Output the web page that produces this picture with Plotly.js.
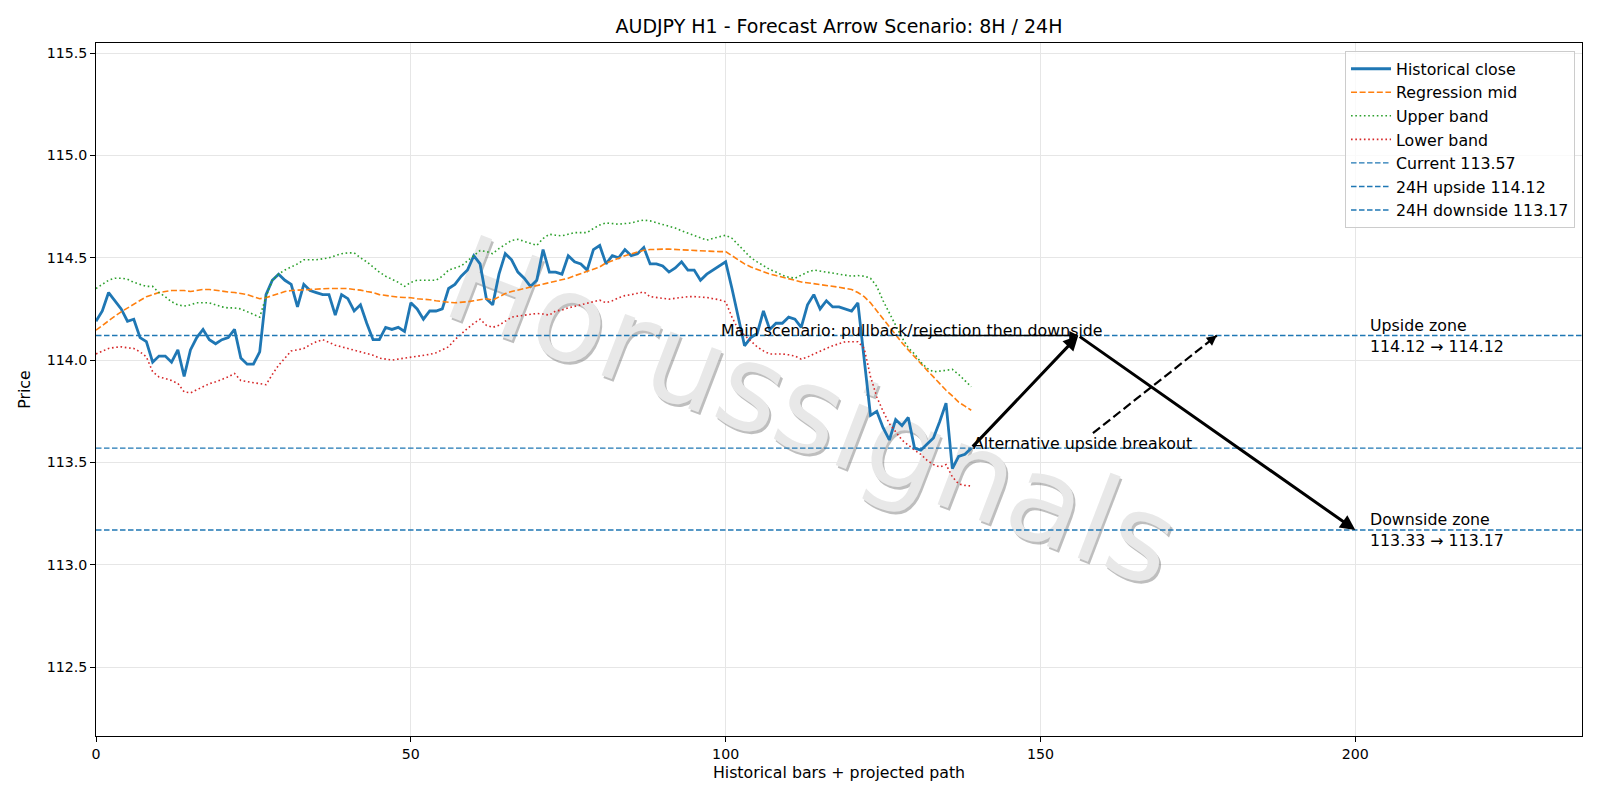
<!DOCTYPE html>
<html>
<head>
<meta charset="utf-8">
<script src="https://cdn.plot.ly/plotly-3.0.1.min.js"></script>
<style>html,body{margin:0;padding:0;background:#fff;}#chart{width:1600px;height:800px;}</style>
</head>
<body>
<div id="chart"></div>
<script>
// ---- data ----
const closeVals = [
114.19,114.24,114.33,114.29,114.25,114.19,114.20,114.11,114.09,113.99,
114.02,114.02,113.99,114.05,113.92,114.05,114.11,114.15,114.10,114.08,
114.10,114.11,114.15,114.01,113.98,113.98,114.04,114.32,114.39,114.42,
114.39,114.37,114.26,114.37,114.34,114.33,114.32,114.32,114.22,114.32,
114.30,114.24,114.27,114.18,114.10,114.10,114.16,114.15,114.16,114.14,
114.28,114.25,114.20,114.24,114.24,114.25,114.35,114.37,114.41,114.44,
114.51,114.47,114.30,114.27,114.42,114.52,114.49,114.43,114.40,114.36,
114.39,114.54,114.43,114.43,114.42,114.51,114.48,114.47,114.44,114.54,
114.56,114.47,114.51,114.50,114.54,114.51,114.52,114.55,114.47,114.47,
114.46,114.43,114.45,114.48,114.44,114.44,114.39,114.42,114.44,114.46,
114.48,114.35,114.21,114.07,114.11,114.13,114.24,114.15,114.18,114.18,
114.21,114.20,114.16,114.27,114.32,114.25,114.29,114.26,114.26,114.25,
114.24,114.28,114.00,113.73,113.75,113.67,113.61,113.71,113.68,113.72,
113.57,113.56,113.59,113.62,113.70,113.79,113.47,113.53,113.54,113.57];

const midVals = [
114.146,114.17,114.195,114.215,114.236,114.255,114.273,114.29,114.31,114.32,
114.33,114.335,114.34,114.34,114.34,114.335,114.34,114.345,114.345,114.34,
114.335,114.333,114.33,114.325,114.32,114.31,114.30,114.305,114.315,114.325,
114.335,114.34,114.342,114.345,114.345,114.348,114.35,114.35,114.35,114.35,
114.35,114.345,114.342,114.335,114.33,114.32,114.315,114.31,114.308,114.306,
114.305,114.30,114.298,114.295,114.29,114.285,114.283,114.28,114.282,114.285,
114.29,114.295,114.30,114.293,114.31,114.325,114.335,114.342,114.35,114.358,
114.366,114.372,114.378,114.385,114.392,114.40,114.412,114.422,114.432,114.443,
114.455,114.475,114.485,114.497,114.51,114.52,114.53,114.537,114.54,114.542,
114.542,114.542,114.54,114.538,114.537,114.535,114.533,114.532,114.531,114.53,
114.53,114.51,114.49,114.47,114.455,114.443,114.43,114.42,114.413,114.406,
114.40,114.39,114.382,114.378,114.374,114.37,114.366,114.362,114.356,114.35,
114.345,114.33,114.31,114.28,114.24,114.20,114.16,114.12,114.085,114.05,
114.015,113.98,113.95,113.918,113.885,113.853,113.825,113.795,113.775,113.755];

const upperVals = [
114.35,114.37,114.39,114.40,114.40,114.395,114.38,114.37,114.36,114.36,
114.33,114.31,114.285,114.27,114.264,114.27,114.28,114.28,114.28,114.27,
114.26,114.255,114.255,114.25,114.236,114.22,114.21,114.31,114.39,114.42,
114.44,114.455,114.47,114.49,114.49,114.49,114.495,114.50,114.51,114.52,
114.524,114.524,114.50,114.48,114.455,114.43,114.41,114.395,114.38,114.36,
114.38,114.39,114.39,114.39,114.39,114.41,114.44,114.45,114.46,114.485,
114.51,114.535,114.53,114.52,114.545,114.565,114.585,114.59,114.58,114.57,
114.56,114.594,114.615,114.61,114.607,114.615,114.623,114.623,114.623,114.643,
114.66,114.67,114.667,114.664,114.667,114.67,114.678,114.684,114.68,114.672,
114.664,114.655,114.645,114.632,114.62,114.608,114.597,114.586,114.595,114.603,
114.61,114.595,114.565,114.53,114.50,114.48,114.46,114.443,114.43,114.415,
114.405,114.40,114.415,114.43,114.44,114.435,114.43,114.425,114.42,114.415,
114.41,114.413,114.41,114.40,114.36,114.29,114.23,114.17,114.11,114.06,
114.03,113.99,113.96,113.943,113.945,113.95,113.955,113.93,113.90,113.87];

const lowerVals = [
114.03,114.045,114.057,114.062,114.065,114.06,114.057,114.04,114.016,113.943,
113.918,113.91,113.90,113.886,113.845,113.84,113.855,113.873,113.885,113.894,
113.905,113.918,113.935,113.90,113.895,113.889,113.885,113.88,113.93,113.975,
114.01,114.045,114.05,114.057,114.075,114.09,114.10,114.085,114.073,114.065,
114.057,114.049,114.04,114.03,114.024,114.01,114.005,114.00,114.005,114.01,
114.013,114.018,114.022,114.028,114.036,114.05,114.065,114.10,114.13,114.155,
114.18,114.20,114.17,114.16,114.17,114.19,114.21,114.215,114.22,114.225,
114.228,114.225,114.22,114.24,114.245,114.255,114.262,114.27,114.277,114.285,
114.293,114.28,114.29,114.305,114.315,114.32,114.328,114.333,114.31,114.305,
114.30,114.298,114.302,114.306,114.31,114.31,114.308,114.306,114.30,114.295,
114.285,114.21,114.15,114.12,114.09,114.065,114.045,114.03,114.03,114.03,
114.026,114.02,114.005,114.015,114.03,114.045,114.057,114.07,114.08,114.09,
114.09,114.09,114.057,113.92,113.82,113.75,113.69,113.65,113.61,113.585,
113.56,113.54,113.51,113.49,113.478,113.49,113.43,113.395,113.388,113.385];

const levelNames = ["Current", "24H upside", "24H downside"];
const levelVals = [113.57, 114.12, 113.17];

// projected main path: current -> 8H rejection point -> 24H downside
const pathX = [139, 156, 200];
const pathY = [113.57, 114.12, 113.17];
// alternative path
const altFromX = 139, altFromY = 113.57;
const altToX = 178, altToY = 114.12;

const zoneLabels = ["Upside zone", "Downside zone"];
const zoneFrom = [114.12, 113.33];
const zoneTo = [114.12, 113.17];
const zoneLabelX = 202;

const mainText = "Main scenario: pullback/rejection then downside";
const mainTextX = 99;
const altText = "Alternative upside breakout";
const watermark = "Horussignals";

const xTicks = [0, 50, 100, 150, 200];
const yTicks = [112.5, 113.0, 113.5, 114.0, 114.5, 115.0, 115.5];

// ---- layout constants ----
const XR = [0, 236];
const YR = [112.164, 115.549];
const M = {l: 96, r: 18, t: 43, b: 64};
const PW = 1600 - M.l - M.r, PH = 800 - M.t - M.b;
const pxX = PW / (XR[1] - XR[0]), pxY = PH / (YR[1] - YR[0]);
const F = "DejaVu Sans, sans-serif";
const FS = 15.8;
const TFS = 14.2;
const C0 = "#1f77b4";

const idx = closeVals.map((_, i) => i);

const traces = [
  {x: idx, y: closeVals, type: "scatter", mode: "lines", name: "Historical close",
   line: {color: C0, width: 2.8}, legendgroup: "a"},
  {x: idx, y: midVals, type: "scatter", mode: "lines", name: "Regression mid",
   line: {color: "#ff7f0e", width: 1.6, dash: "6px,2.6px"}, legendgroup: "b"},
  {x: idx, y: upperVals, type: "scatter", mode: "lines", name: "Upper band",
   line: {color: "#2ca02c", width: 1.6, dash: "1.6px,2.7px"}, legendgroup: "c"},
  {x: idx, y: lowerVals, type: "scatter", mode: "lines", name: "Lower band",
   line: {color: "#d62728", width: 1.6, dash: "1.6px,2.7px"}, legendgroup: "d"}
];
levelVals.forEach((v, k) => {
  traces.push({x: XR, y: [v, v], type: "scatter", mode: "lines",
    name: levelNames[k] + " " + v.toFixed(2),
    line: {color: C0, width: 1.4, dash: "5.5px,2.5px"}, legendgroup: "l" + k});
});

// alternative dashed arrow line: from text box top edge toward target
const altTextWpx = 218;
const altCx = altFromX + (altTextWpx / 2) / pxX;
const altCy = altFromY + 5 / pxY;
const altTopY = altCy + 10 / pxY;
const tAlt = (altTopY - altCy) / (altToY - altCy);
const altStartX = altCx + tAlt * (altToX - altCx);
traces.push({x: [altStartX, altToX], y: [altTopY, altToY], type: "scatter", mode: "lines",
  showlegend: false, hoverinfo: "skip", line: {color: "black", width: 2.2, dash: "9px,4px"}});

const annotations = [];
// watermark (shadow + text) -> moved beneath the traces after drawing
const WM = {x: 0.482, y: 0.468, angle: 21, size: 120};
annotations.push({xref: "paper", yref: "paper", x: WM.x, y: WM.y, text: watermark, showarrow: false,
  textangle: WM.angle, font: {family: F, size: WM.size, color: "rgba(110,110,110,0.45)"}, xshift: 2.5, yshift: -2.5});
annotations.push({xref: "paper", yref: "paper", x: WM.x, y: WM.y, text: watermark, showarrow: false,
  textangle: WM.angle, font: {family: F, size: WM.size, color: "rgb(232,232,232)"}});

// main path arrows
for (let k = 0; k < pathX.length - 1; k++) {
  annotations.push({x: pathX[k + 1], y: pathY[k + 1], ax: pathX[k], ay: pathY[k],
    xref: "x", yref: "y", axref: "x", ayref: "y", text: "", showarrow: true,
    arrowhead: 2, arrowsize: 1, arrowwidth: 3, arrowcolor: "black"});
}
// main scenario text + thin arrow
const mainTextWpx = 384;
const mainCx = mainTextX + (mainTextWpx / 2) / pxX;
annotations.push({x: pathX[1], y: pathY[1], ax: mainCx, ay: pathY[1],
  xref: "x", yref: "y", axref: "x", ayref: "y", text: "", showarrow: true,
  arrowhead: 2, arrowsize: 1.2, arrowwidth: 1.5, arrowcolor: "black"});
annotations.push({x: mainTextX, y: pathY[1], xref: "x", yref: "y", text: mainText, showarrow: false,
  xanchor: "left", yanchor: "middle", yshift: 5, font: {family: F, size: FS, color: "black"}});
// alt text + arrowhead
annotations.push({x: altFromX, y: altFromY, xref: "x", yref: "y", text: altText, showarrow: false,
  xanchor: "left", yanchor: "middle", yshift: 5, font: {family: F, size: FS, color: "black"}});
const dxp = (altToX - altStartX) * pxX, dyp = (altToY - altTopY) * pxY;
const dl = Math.hypot(dxp, dyp);
annotations.push({x: altToX, y: altToY, xref: "x", yref: "y", text: "", showarrow: true,
  ax: -8 * dxp / dl, ay: 8 * dyp / dl, arrowhead: 2, arrowsize: 1, arrowwidth: 2, arrowcolor: "black"});
// zone labels
zoneLabels.forEach((lab, k) => {
  annotations.push({x: zoneLabelX, y: zoneTo[k], xref: "x", yref: "y",
    text: lab + "<br>" + zoneFrom[k].toFixed(2) + " \u2192 " + zoneTo[k].toFixed(2),
    showarrow: false, xanchor: "left", yanchor: "middle", align: "left",
    font: {family: F, size: FS, color: "black"}});
});

const axisCommon = {
  showline: true, mirror: true, linecolor: "black", linewidth: 1,
  ticks: "outside", ticklen: 4.9, tickwidth: 1, tickcolor: "black",
  showgrid: true, gridcolor: "#e6e6e6", gridwidth: 1, zeroline: false,
  tickfont: {family: F, size: TFS, color: "black"}, automargin: false
};

const layout = {
  width: 1600, height: 800,
  margin: M,
  paper_bgcolor: "white", plot_bgcolor: "white",
  font: {family: F, size: FS, color: "black"},
  title: {text: "AUDJPY H1 - Forecast Arrow Scenario: 8H / 24H", x: 0.5, xref: "paper",
    y: 1 - 26 / 800, yref: "container", yanchor: "middle", font: {family: F, size: 19, color: "black"}},
  xaxis: Object.assign({}, axisCommon, {range: XR, tickvals: xTicks, ticktext: xTicks.map(String),
    title: {text: "Historical bars + projected path", font: {family: F, size: FS}, standoff: 5}}),
  yaxis: Object.assign({}, axisCommon, {range: YR, tickvals: yTicks, ticktext: yTicks.map(v => v.toFixed(1)),
    title: {text: "Price", font: {family: F, size: FS}, standoff: 12}}),
  legend: {x: 0.9953, y: 0.9885, xanchor: "right", yanchor: "top",
    bgcolor: "rgba(255,255,255,0.8)", bordercolor: "#cccccc", borderwidth: 1,
    font: {family: F, size: FS, color: "black"}, tracegroupgap: 0, traceorder: "grouped",
    itemwidth: 40},
  annotations: annotations,
  showlegend: true,
  hovermode: false
};

function sinkWatermark(gd) {
  // place the watermark above the grid but beneath the data lines
  const sub = gd.querySelector("g.cartesianlayer g.subplot.xy") || gd.querySelector("g.subplot.xy");
  if (!sub) return;
  const plotG = sub.querySelector("g.plot") || sub.querySelector("g.overplot");
  if (!plotG) return;
  let anchor = plotG;
  while (anchor.parentNode && anchor.parentNode !== sub) anchor = anchor.parentNode;
  if (anchor.parentNode !== sub) return;
  const anns = Array.from(gd.querySelectorAll("g.annotation"))
    .filter(g => (g.textContent || "").trim() === watermark);
  anns.forEach(a => sub.insertBefore(a, anchor));
}

Plotly.newPlot("chart", traces, layout, {displayModeBar: false, staticPlot: true})
  .then(gd => { try { sinkWatermark(gd); } catch (e) { console.error(e); } });
</script>
</body>
</html>
